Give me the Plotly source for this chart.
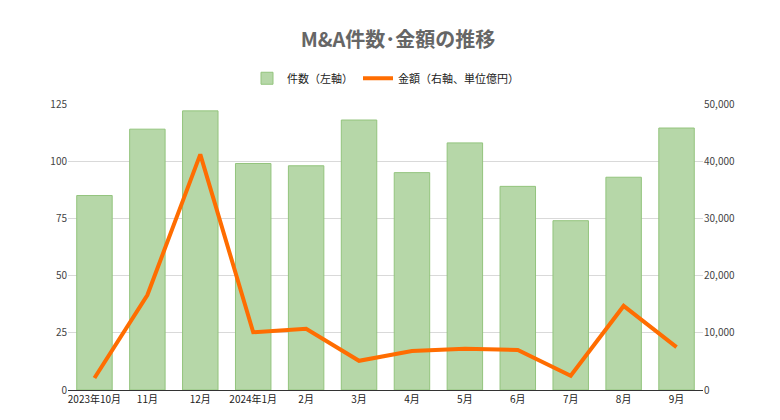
import plotly.graph_objects as go

months = ["2023年10月","11月","12月","2024年1月","2月","3月","4月","5月","6月","7月","8月","9月"]
counts = [85, 114, 122, 99, 98, 118, 95, 108, 89, 74, 93, 114.5]
amounts = [2100, 16600, 41200, 10100, 10700, 5100, 6800, 7200, 7000, 2500, 14700, 7500]
left_ticks = [0, 25, 50, 75, 100, 125]
right_ticks = [0, 10000, 20000, 30000, 40000, 50000]
right_labels = ["0", "10,000", "20,000", "30,000", "40,000", "50,000"]

F = "Noto Sans CJK JP"
fig = go.Figure()
fig.add_bar(x=months, y=counts, name="件数（左軸）", marker_color="#b6d7a8",
            marker_line_color="#93c47d", marker_line_width=1, yaxis="y")
fig.add_scatter(x=months, y=amounts, name="金額（右軸、単位億円）", mode="lines",
                line=dict(color="#ff6d01", width=4), yaxis="y2")
fig.update_layout(
    width=780, height=420, paper_bgcolor="white", plot_bgcolor="white",
    font=dict(family=F, size=10, color="#444"),
    title=dict(text="<b>M&A件数･金額の推移</b>", x=0.5, y=0.925, xanchor="center", yanchor="middle",
               font=dict(size=20, color="#666", family=F)),
    legend=dict(orientation="h", x=0.5, xanchor="center", y=1.09, yanchor="middle",
                font=dict(size=11, color="#222")),
    margin=dict(l=60, r=85, t=96, b=38),
    bargap=0.33,
    xaxis=dict(showgrid=False, tickfont=dict(size=10, color="#222"), showline=True, linecolor="#333"),
    yaxis=dict(range=[0,125], tickvals=left_ticks, gridcolor="#d9d9d9", zeroline=False,
               tickfont=dict(color="#444")),
    yaxis2=dict(range=[0,50000], tickvals=right_ticks, ticktext=right_labels, overlaying="y",
                side="right", showgrid=False, zeroline=False, tickfont=dict(color="#444")),
)
fig.write_html("out.html")
